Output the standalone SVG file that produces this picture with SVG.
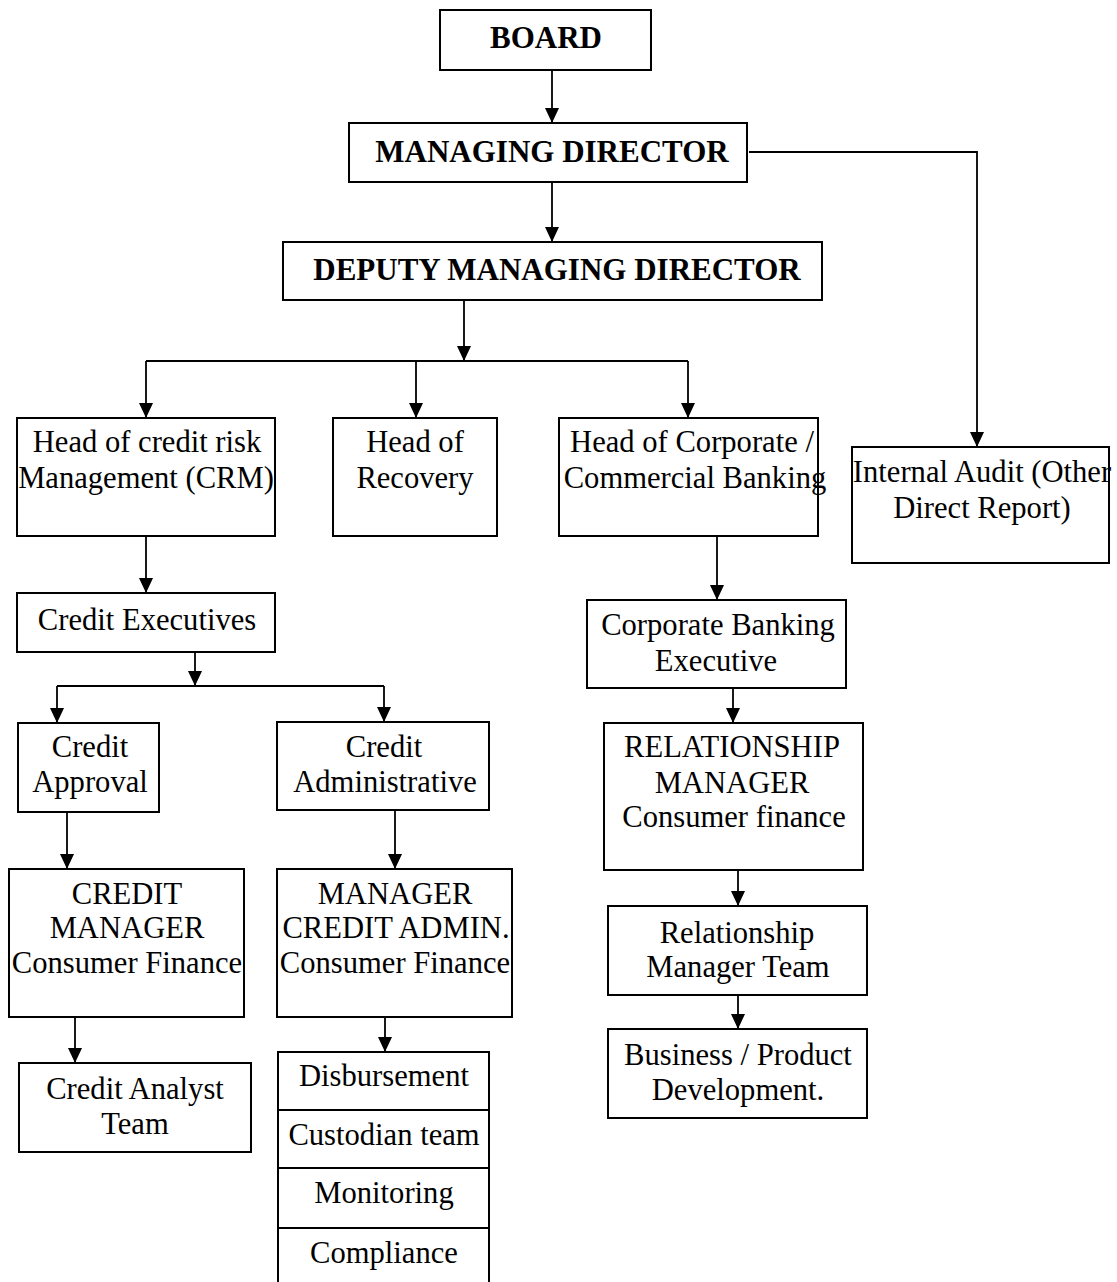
<svg xmlns="http://www.w3.org/2000/svg" width="1117" height="1282" viewBox="0 0 1117 1282">
<style>
.box{fill:#fff;stroke:#000;stroke-width:2}
.t{font-family:"Liberation Serif","Times New Roman",serif;font-size:30.6px;text-anchor:middle;fill:#000}
.b{font-weight:bold;font-size:31px}
.c{fill:none;stroke:#000;stroke-width:1.8}
.a{marker-end:url(#arr)}
</style>
<defs>
<marker id="arr" markerUnits="userSpaceOnUse" markerWidth="15" markerHeight="14" refX="15" refY="7" orient="auto">
<path d="M0,0 L15,7 L0,14 z" fill="#000"/>
</marker>
</defs>
<rect width="1117" height="1282" fill="#fff"/>
<g id="connectors">
<path class="c a" d="M552,70 V123"/>
<path class="c a" d="M552,182 V242"/>
<path class="c a" d="M749,152 H977 V447"/>
<path class="c a" d="M464,300 V361"/>
<path class="c" d="M146,361 H688"/>
<path class="c a" d="M146,361 V418"/>
<path class="c a" d="M416,361 V418"/>
<path class="c a" d="M688,361 V418"/>
<path class="c a" d="M146,536 V593"/>
<path class="c a" d="M195,652 V686"/>
<path class="c" d="M57,686 H384"/>
<path class="c a" d="M57,686 V723"/>
<path class="c a" d="M384,686 V722"/>
<path class="c a" d="M67,812 V869"/>
<path class="c a" d="M395,810 V869"/>
<path class="c a" d="M75,1017 V1063"/>
<path class="c a" d="M385,1017 V1052"/>
<path class="c a" d="M717,536 V600"/>
<path class="c a" d="M733,688 V723"/>
<path class="c a" d="M738,870 V906"/>
<path class="c a" d="M738,995 V1029"/>
</g>
<g id="board"><rect class="box" x="440" y="10" width="211" height="60"/><text class="t b" x="546" y="48">BOARD</text></g>
<g id="md"><rect class="box" x="349" y="123" width="398" height="59"/><text class="t b" x="552" y="162">MANAGING DIRECTOR</text></g>
<g id="dmd"><rect class="box" x="283" y="242" width="539" height="58"/><text class="t b" x="557" y="280">DEPUTY MANAGING DIRECTOR</text></g>
<g id="crm"><rect class="box" x="17" y="418" width="258" height="118"/><text class="t" x="147" y="452">Head of credit risk</text><text class="t" x="146" y="488">Management (CRM)</text></g>
<g id="recovery"><rect class="box" x="333" y="418" width="164" height="118"/><text class="t" x="415" y="452">Head of</text><text class="t" x="415" y="488">Recovery</text></g>
<g id="corporate"><rect class="box" x="559" y="418" width="259" height="118"/><text class="t" x="692" y="452">Head of Corporate /</text><text class="t" x="695" y="488">Commercial Banking</text></g>
<g id="audit"><rect class="box" x="852" y="447" width="257" height="116"/><text class="t" x="982" y="482">Internal Audit (Other</text><text class="t" x="982" y="518">Direct Report)</text></g>
<g id="credit-exec"><rect class="box" x="17" y="593" width="258" height="59"/><text class="t" x="147" y="630">Credit Executives</text></g>
<g id="credit-approval"><rect class="box" x="18" y="723" width="141" height="89"/><text class="t" x="90" y="757">Credit</text><text class="t" x="90" y="792">Approval</text></g>
<g id="credit-admin"><rect class="box" x="277" y="722" width="212" height="88"/><text class="t" x="384" y="757">Credit</text><text class="t" x="385" y="792">Administrative</text></g>
<g id="credit-manager"><rect class="box" x="9" y="869" width="235" height="148"/><text class="t" x="127" y="904">CREDIT</text><text class="t" x="127" y="938">MANAGER</text><text class="t" x="127" y="973">Consumer Finance</text></g>
<g id="manager-credit-admin"><rect class="box" x="277" y="869" width="235" height="148"/><text class="t" x="395" y="904">MANAGER</text><text class="t" x="396" y="938">CREDIT ADMIN.</text><text class="t" x="395" y="973">Consumer Finance</text></g>
<g id="credit-analyst"><rect class="box" x="19" y="1063" width="232" height="89"/><text class="t" x="135" y="1099">Credit Analyst</text><text class="t" x="135" y="1134">Team</text></g>
<g id="disbursement"><rect class="box" x="278" y="1052" width="211" height="58"/><text class="t" x="384" y="1086">Disbursement</text></g>
<g id="custodian"><rect class="box" x="278" y="1110" width="211" height="58"/><text class="t" x="384" y="1145">Custodian team</text></g>
<g id="monitoring"><rect class="box" x="278" y="1168" width="211" height="60"/><text class="t" x="384" y="1203">Monitoring</text></g>
<g id="compliance"><rect class="box" x="278" y="1228" width="211" height="70"/><text class="t" x="384" y="1263">Compliance</text></g>
<g id="cbe"><rect class="box" x="587" y="600" width="259" height="88"/><text class="t" x="718" y="635">Corporate Banking</text><text class="t" x="716" y="671">Executive</text></g>
<g id="rm"><rect class="box" x="604" y="723" width="259" height="147"/><text class="t" x="732" y="757">RELATIONSHIP</text><text class="t" x="732" y="793">MANAGER</text><text class="t" x="734" y="827">Consumer finance</text></g>
<g id="rmt"><rect class="box" x="608" y="906" width="259" height="89"/><text class="t" x="737" y="943">Relationship</text><text class="t" x="738" y="977">Manager Team</text></g>
<g id="bpd"><rect class="box" x="608" y="1029" width="259" height="89"/><text class="t" x="738" y="1065">Business / Product</text><text class="t" x="738" y="1100">Development.</text></g>
</svg>
